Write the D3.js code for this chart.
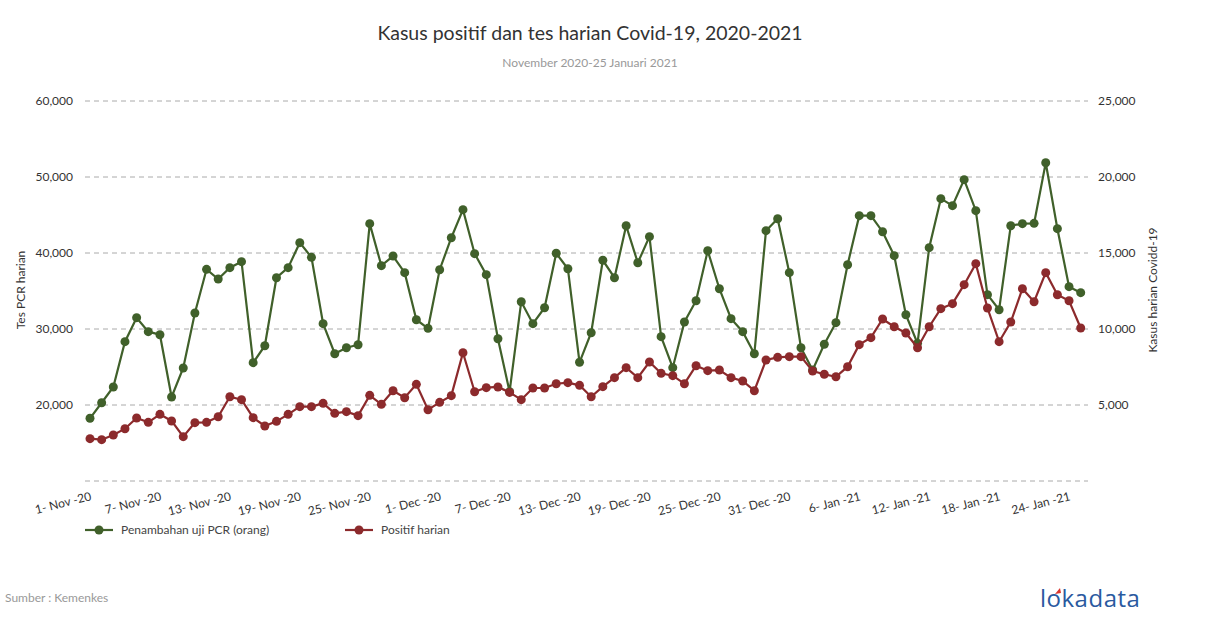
<!DOCTYPE html>
<html>
<head>
<meta charset="utf-8">
<script src="https://d3js.org/d3.v7.min.js"></script>
<style>
  body { margin: 0; background: #fff; font-family: Lato, "Open Sans", sans-serif; }
</style>
</head>
<body>
<div id="grafico"></div>
<script>
// datos diarios, 1 Nov 2020 - 25 Jan 2021
var startDate = new Date(2020, 10, 1);

var ujiPCR = [
  18250, 20300, 22370, 28330, 31490, 29650, 29250, 21050, 24870, 32100,
  37850, 36580, 38070, 38860, 25570, 27800, 36750, 38070, 41360, 39430,
  30700, 26750, 27540, 27930, 43860, 38330, 39600, 37410, 31220, 30090,
  37800, 42010, 45700, 39910, 37150, 28720, 21750, 33590, 30700, 32800,
  39960, 37930, 25620, 29510, 39040, 36750, 43590, 38720, 42150, 28990,
  24910, 30920, 33720, 40300, 35300, 31360, 29650, 26750, 42940, 44510,
  37410, 27540, 24610, 27990, 30830, 38460, 44910, 44910, 42800, 39650,
  31880, 28110, 40700, 47150, 46230, 49650, 45570, 34520, 32540, 43590,
  43860, 43900, 51880, 43200, 35570, 34780
];

var positif = [
  2785, 2720, 3030, 3440, 4145, 3860, 4385, 3950, 2915, 3840,
  3860, 4230, 5545, 5350, 4165, 3620, 3925, 4385, 4890, 4890,
  5110, 4450, 4560, 4300, 5635, 5045, 5940, 5480, 6360, 4690,
  5175, 5615, 8440, 5875, 6140, 6185, 5830, 5350, 6120, 6120,
  6400, 6470, 6295, 5545, 6205, 6800, 7455, 6800, 7830, 7085,
  6930, 6400, 7585, 7260, 7300, 6800, 6580, 5940, 7960, 8135,
  8180, 8180, 7235, 7020, 6860, 7520, 8970, 9430, 10660, 10150,
  9740, 8770, 10150, 11340, 11665, 12915, 14300, 11380, 9165, 10460,
  12650, 11795, 13705, 12255, 11860, 10065
];

var ticksIzq = [20000, 30000, 40000, 50000, 60000];
var ticksDer = [0, 5000, 10000, 15000, 20000, 25000];
var gridVals = [10000, 20000, 30000, 40000, 50000, 60000];

var fechas = ujiPCR.map(function(d, i) { return d3.timeDay.offset(startDate, i); });
var fechasTick = fechas.filter(function(d, i) { return i % 6 === 0; });

var width = 1210, height = 628;
var verde = "#40602a", rojo = "#8c2a2c";

var svg = d3.select("#grafico").append("svg")
  .attr("width", width)
  .attr("height", height);

var x = d3.scaleTime()
  .domain([fechas[0], fechas[fechas.length - 1]])
  .range([90, 1080.7]);

var yIzq = d3.scaleLinear().domain([10000, 60000]).range([481, 101]);
var yDer = d3.scaleLinear().domain([0, 25000]).range([481, 101]);

// titulo
svg.append("text")
  .attr("x", 590).attr("y", 40)
  .attr("text-anchor", "middle")
  .style("font-size", "19.5px").style("fill", "#333")
  .text("Kasus positif dan tes harian Covid-19, 2020-2021");

svg.append("text")
  .attr("x", 590).attr("y", 67)
  .attr("text-anchor", "middle")
  .style("font-size", "12px").style("fill", "#999")
  .text("November 2020-25 Januari 2021");

// lineas de la cuadricula
svg.selectAll(".grid")
  .data(gridVals)
  .enter().append("line")
  .attr("class", "grid")
  .attr("x1", 85).attr("x2", 1088)
  .attr("y1", function(d) { return yIzq(d); })
  .attr("y2", function(d) { return yIzq(d); })
  .style("stroke", "#aaa")
  .style("stroke-dasharray", "5,4");

// eje izquierdo
svg.append("g")
  .attr("transform", "translate(73,0)")
  .call(d3.axisLeft(yIzq).tickValues(ticksIzq).tickSize(0).tickPadding(0).tickFormat(d3.format(",")))
  .call(function(g) { g.select(".domain").remove(); })
  .selectAll("text")
  .style("font-family", "Lato, sans-serif")
  .style("font-size", "12px").style("fill", "#333");

// eje derecho
svg.append("g")
  .attr("transform", "translate(1098,0)")
  .call(d3.axisRight(yDer).tickValues(ticksDer).tickSize(0).tickPadding(0)
    .tickFormat(function(d) { return d === 0 ? "" : d3.format(",")(d); }))
  .call(function(g) { g.select(".domain").remove(); })
  .selectAll("text")
  .style("font-family", "Lato, sans-serif")
  .style("font-size", "12px").style("fill", "#333");

// titulos de ejes
svg.append("text")
  .attr("transform", "translate(25,290) rotate(-90)")
  .attr("text-anchor", "middle")
  .style("font-size", "12px").style("fill", "#333")
  .text("Tes PCR harian");

svg.append("text")
  .attr("transform", "translate(1157,290) rotate(-90)")
  .attr("text-anchor", "middle")
  .style("font-size", "12px").style("fill", "#333")
  .text("Kasus harian Covidd-19");

// eje x
var fmt = d3.timeFormat("%-d- %b -%y");
svg.selectAll(".xlab")
  .data(fechasTick)
  .enter().append("text")
  .attr("class", "xlab")
  .attr("text-anchor", "end")
  .attr("transform", function(d) { return "translate(" + (x(d) + 2) + ",500) rotate(-14)"; })
  .style("font-size", "12px").style("fill", "#333")
  .text(function(d) { return fmt(d); });

// series
function dibujarSerie(valores, escala, color) {
  var linea = d3.line()
    .x(function(d, i) { return x(fechas[i]); })
    .y(function(d) { return escala(d); });

  svg.append("path")
    .datum(valores)
    .attr("d", linea)
    .style("fill", "none")
    .style("stroke", color)
    .style("stroke-width", 2.2);

  svg.selectAll(null)
    .data(valores)
    .enter().append("circle")
    .attr("cx", function(d, i) { return x(fechas[i]); })
    .attr("cy", function(d) { return escala(d); })
    .attr("r", 4.5)
    .style("fill", color);
}

dibujarSerie(ujiPCR, yIzq, verde);
dibujarSerie(positif, yDer, rojo);

// leyenda
var leyenda = [
  { nombre: "Penambahan uji PCR (orang)", color: verde, x: 85 },
  { nombre: "Positif harian", color: rojo, x: 345 }
];
var items = svg.selectAll(".ley")
  .data(leyenda)
  .enter().append("g")
  .attr("class", "ley")
  .attr("transform", function(d) { return "translate(" + d.x + ",530)"; });
items.append("line")
  .attr("x1", 0).attr("x2", 28)
  .style("stroke", function(d) { return d.color; })
  .style("stroke-width", 2.2);
items.append("circle")
  .attr("cx", 14).attr("r", 4.5)
  .style("fill", function(d) { return d.color; });
items.append("text")
  .attr("x", 36).attr("y", 4)
  .style("font-size", "12px").style("fill", "#444")
  .text(function(d) { return d.nombre; });

// fuente
svg.append("text")
  .attr("x", 5).attr("y", 602)
  .style("font-size", "12px").style("fill", "#999")
  .text("Sumber : Kemenkes");

// logo
svg.append("text")
  .attr("x", 1040).attr("y", 607)
  .style("font-family", "'Open Sans', sans-serif")
  .style("font-size", "24px").style("fill", "#2a5aa0")
  .style("letter-spacing", "0.5px")
  .text("lokadata");
svg.append("path")
  .attr("d", "M1055,594 l5,-6 l1,5 z")
  .style("fill", "#d9372f");
</script>
</body>
</html>
